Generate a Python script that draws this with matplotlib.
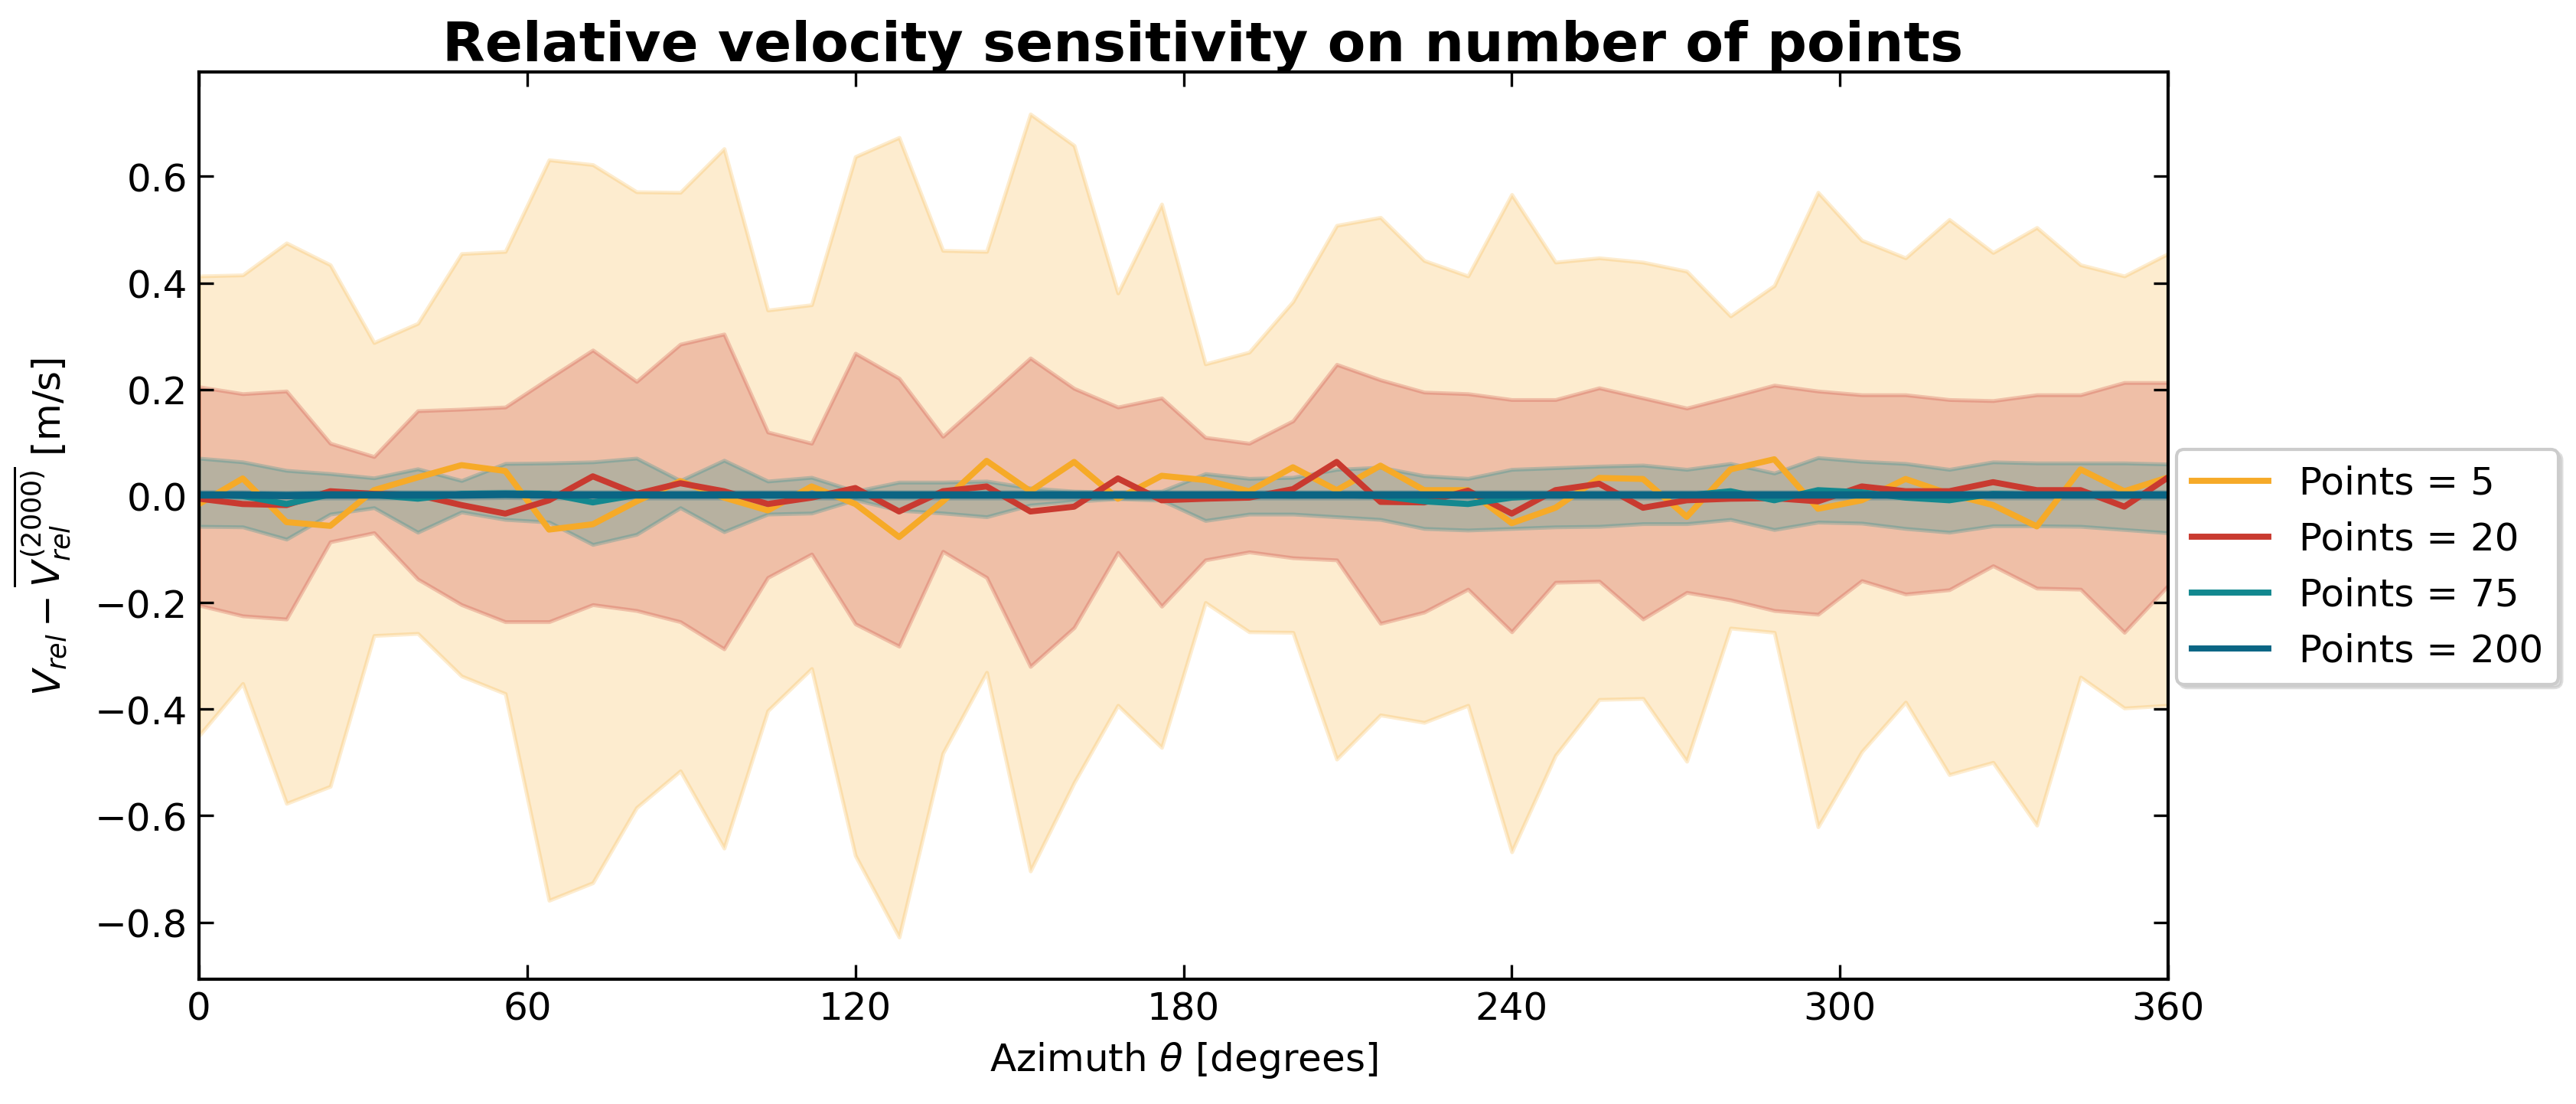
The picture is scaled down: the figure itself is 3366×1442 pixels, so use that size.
import matplotlib
matplotlib.use("Agg")
import matplotlib.pyplot as plt

# ---------------- data ----------------
azimuth = [0, 8, 16, 24, 32, 40, 48, 56, 64, 72, 80, 88, 96, 104, 112, 120,
           128, 136, 144, 152, 160, 168, 176, 184, 192, 200, 208, 216, 224,
           232, 240, 248, 256, 264, 272, 280, 288, 296, 304, 312, 320, 328,
           336, 344, 352, 360]

# Points = 5
p5_mean = [-0.015, 0.033, -0.049, -0.056, 0.011, 0.035, 0.058, 0.047, -0.063, -0.053,
           -0.010, 0.028, -0.003, -0.027, 0.018, -0.015, -0.077, -0.010, 0.066, 0.009,
           0.064, -0.005, 0.038, 0.030, 0.009, 0.054, 0.011, 0.057, 0.011, 0.011,
           -0.051, -0.022, 0.034, 0.032, -0.039, 0.050, 0.069, -0.024, -0.008, 0.032,
           0.004, -0.017, -0.057, 0.050, 0.009, 0.035]
p5_upper = [0.413, 0.415, 0.475, 0.434, 0.288, 0.324, 0.455, 0.459, 0.631, 0.622,
            0.571, 0.570, 0.652, 0.349, 0.359, 0.637, 0.673, 0.461, 0.459, 0.717,
            0.658, 0.381, 0.548, 0.248, 0.270, 0.365, 0.508, 0.523, 0.442, 0.413,
            0.566, 0.439, 0.447, 0.439, 0.422, 0.338, 0.395, 0.570, 0.480, 0.447,
            0.519, 0.457, 0.504, 0.434, 0.413, 0.455]
p5_lower = [-0.450, -0.352, -0.577, -0.545, -0.262, -0.258, -0.338, -0.371, -0.759, -0.726,
            -0.585, -0.516, -0.661, -0.403, -0.324, -0.675, -0.828, -0.483, -0.331, -0.704,
            -0.538, -0.393, -0.472, -0.200, -0.255, -0.256, -0.494, -0.411, -0.425, -0.393,
            -0.668, -0.487, -0.382, -0.380, -0.498, -0.248, -0.256, -0.621, -0.480, -0.387,
            -0.523, -0.500, -0.618, -0.340, -0.398, -0.393]

# Points = 20
p20_mean = [-0.005, -0.015, -0.017, 0.009, 0.004, 0.002, -0.017, -0.033, -0.008, 0.037,
            0.004, 0.024, 0.009, -0.015, -0.003, 0.015, -0.029, 0.009, 0.018, -0.029,
            -0.020, 0.033, -0.008, -0.005, -0.003, 0.013, 0.064, -0.011, -0.012, 0.010,
            -0.033, 0.011, 0.023, -0.022, -0.008, -0.005, -0.004, -0.010, 0.018, 0.009,
            0.009, 0.026, 0.011, 0.011, -0.020, 0.035]
p20_upper = [0.205, 0.192, 0.197, 0.099, 0.074, 0.160, 0.163, 0.167, 0.221, 0.274,
             0.215, 0.285, 0.304, 0.120, 0.099, 0.268, 0.221, 0.112, 0.185, 0.259,
             0.202, 0.167, 0.184, 0.110, 0.099, 0.141, 0.247, 0.218, 0.195, 0.192,
             0.181, 0.181, 0.203, 0.184, 0.165, 0.186, 0.208, 0.197, 0.190, 0.190,
             0.181, 0.179, 0.190, 0.190, 0.213, 0.213]
p20_lower = [-0.205, -0.225, -0.231, -0.086, -0.069, -0.156, -0.204, -0.236, -0.236, -0.204,
             -0.215, -0.236, -0.287, -0.153, -0.109, -0.240, -0.282, -0.104, -0.153, -0.320,
             -0.247, -0.106, -0.207, -0.120, -0.105, -0.116, -0.120, -0.239, -0.218, -0.175,
             -0.255, -0.162, -0.160, -0.231, -0.181, -0.195, -0.215, -0.222, -0.159, -0.184,
             -0.176, -0.131, -0.173, -0.175, -0.256, -0.168]

# Points = 75
p75_mean = [0.003, 0.000, -0.015, 0.003, 0.002, -0.005, 0.004, 0.005, 0.004, -0.012,
            0.002, 0.002, 0.003, 0.002, 0.002, 0.002, 0.001, 0.001, 0.002, 0.001,
            0.001, 0.001, 0.001, 0.001, 0.002, 0.001, 0.002, 0.000, -0.010, -0.015,
            -0.003, 0.002, 0.002, 0.002, 0.001, 0.009, -0.008, 0.011, 0.007, -0.003,
            -0.008, 0.004, 0.002, 0.002, 0.001, 0.002]
p75_upper = [0.071, 0.064, 0.048, 0.042, 0.034, 0.051, 0.029, 0.061, 0.062, 0.064,
             0.071, 0.029, 0.067, 0.028, 0.035, 0.009, 0.026, 0.026, 0.028, 0.015,
             0.009, 0.007, 0.009, 0.042, 0.033, 0.035, 0.050, 0.054, 0.038, 0.033,
             0.050, 0.053, 0.056, 0.058, 0.050, 0.061, 0.043, 0.072, 0.065, 0.061,
             0.050, 0.064, 0.062, 0.062, 0.062, 0.060]
p75_lower = [-0.057, -0.058, -0.081, -0.034, -0.022, -0.068, -0.030, -0.044, -0.049, -0.091,
             -0.072, -0.022, -0.067, -0.034, -0.032, -0.007, -0.027, -0.032, -0.039, -0.017,
             -0.010, -0.005, -0.008, -0.046, -0.034, -0.034, -0.039, -0.044, -0.061, -0.064,
             -0.061, -0.058, -0.057, -0.052, -0.052, -0.044, -0.063, -0.049, -0.051, -0.061,
             -0.068, -0.056, -0.056, -0.057, -0.063, -0.069]

# Points = 200
p200_mean = [0.002, 0.002, 0.001, 0.002, 0.002, 0.002, 0.002, 0.003, 0.002, 0.002,
             0.002, 0.002, 0.002, 0.002, 0.002, 0.002, 0.002, 0.002, 0.002, 0.002,
             0.002, 0.002, 0.002, 0.002, 0.002, 0.002, 0.002, 0.002, 0.002, 0.002,
             0.002, 0.002, 0.002, 0.002, 0.002, 0.002, 0.002, 0.002, 0.002, 0.002,
             0.002, 0.002, 0.002, 0.002, 0.002, 0.002]
p200_upper = [0.008, 0.008, 0.007, 0.008, 0.008, 0.008, 0.008, 0.009, 0.008, 0.008,
              0.008, 0.008, 0.008, 0.008, 0.008, 0.008, 0.008, 0.008, 0.008, 0.008,
              0.008, 0.008, 0.008, 0.008, 0.008, 0.008, 0.008, 0.008, 0.008, 0.008,
              0.008, 0.008, 0.008, 0.008, 0.008, 0.008, 0.008, 0.008, 0.008, 0.008,
              0.008, 0.008, 0.008, 0.008, 0.008, 0.008]
p200_lower = [-0.004, -0.004, -0.005, -0.004, -0.004, -0.004, -0.004, -0.003, -0.004, -0.004,
              -0.004, -0.004, -0.004, -0.004, -0.004, -0.004, -0.004, -0.004, -0.004, -0.004,
              -0.004, -0.004, -0.004, -0.004, -0.004, -0.004, -0.004, -0.004, -0.004, -0.004,
              -0.004, -0.004, -0.004, -0.004, -0.004, -0.004, -0.004, -0.004, -0.004, -0.004,
              -0.004, -0.004, -0.004, -0.004, -0.004, -0.004]

labels = ["Points = 5", "Points = 20", "Points = 75", "Points = 200"]
colors = ["#F6AA28", "#C93A30", "#12888F", "#0B6584"]
means = [p5_mean, p20_mean, p75_mean, p200_mean]
uppers = [p5_upper, p20_upper, p75_upper, p200_upper]
lowers = [p5_lower, p20_lower, p75_lower, p200_lower]

x_ticks = [0, 60, 120, 180, 240, 300, 360]
y_ticks = [-0.8, -0.6, -0.4, -0.2, 0.0, 0.2, 0.4, 0.6]

# ---------------- figure ----------------
W, H, DPI = 3366, 1443, 300
fig = plt.figure(figsize=(W / DPI, H / DPI), dpi=DPI)
ax = fig.add_axes([260 / W, 1 - 1280 / H, (2833 - 260) / W, (1280 - 95) / H])

band_alpha = [0.22, 0.25, 0.25, 0.25]
handles = []
for up, lo, c, a in zip(uppers, lowers, colors, band_alpha):
    ax.fill_between(azimuth, lo, up, color=c, alpha=a, linewidth=1.2)
for m, c, lab, lw in zip(means, colors, labels, [1.9, 1.9, 1.9, 2.3]):
    ln, = ax.plot(azimuth, m, color=c, lw=lw, label=lab)
    handles.append(ln)

ax.set_xlim(0, 360)
ax.set_ylim(-0.907, 0.796)
ax.set_xticks(x_ticks)
ax.set_yticks(y_ticks)
ax.tick_params(direction="in", top=True, right=True, length=4.5, width=0.8,
               labelsize=12)
for s in ax.spines.values():
    s.set_linewidth(1.0)

ax.set_xlabel(r"Azimuth $\theta$ [degrees]", fontsize=12)
ax.set_ylabel(r"$V_{rel} - \overline{V_{rel}^{(2000)}}$ [m/s]", fontsize=12)
ax.yaxis.set_label_coords(-0.064, 0.5)

fig.text(1572 / W, 1 - 80 / H, "Relative velocity sensitivity on number of points",
         ha="center", va="baseline", fontsize=17.4, fontweight="bold")

leg_handles = [plt.Line2D([], [], color=c, lw=1.9) for c in colors]
fig.legend(handles=leg_handles, labels=labels, loc="upper left",
           bbox_to_anchor=(2844 / W, 1 - 588 / H), bbox_transform=fig.transFigure,
           borderaxespad=0, fontsize=12, frameon=True, fancybox=True,
           framealpha=1, edgecolor="0.8",
           shadow={"ox": 1.0, "oy": -1.0, "color": "0.75", "alpha": 0.5})

fig.savefig("out.png", dpi=DPI)
